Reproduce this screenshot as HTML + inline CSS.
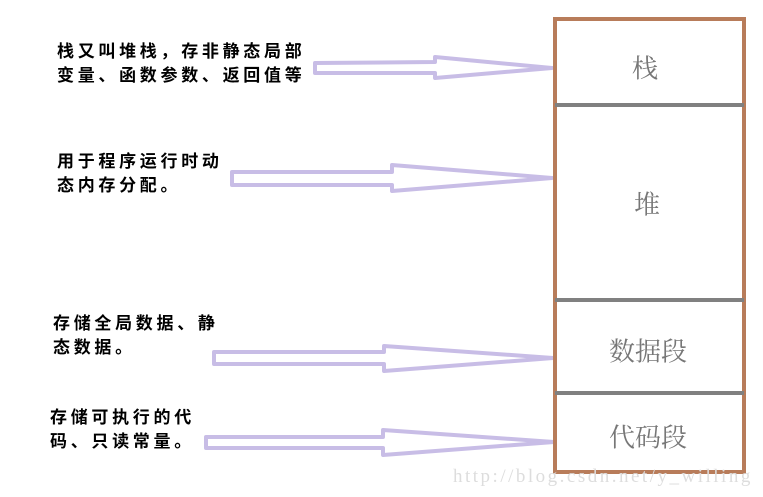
<!DOCTYPE html>
<html><head><meta charset="utf-8"><style>
body{margin:0;background:#fff;width:763px;height:497px;overflow:hidden;position:relative}
.t{position:absolute;font:bold 17px "Liberation Sans","Noto Sans CJK SC",sans-serif;color:#000;line-height:24px;letter-spacing:3.7px;white-space:nowrap}
.l{position:absolute;font:26px "Liberation Serif","Noto Serif CJK SC",serif;color:#777;transform:translate(-50%,-50%);white-space:nowrap}
</style></head><body>
<svg width="763" height="497" style="position:absolute;left:0;top:0">
<g fill="none" stroke="#c8bde6" stroke-width="4" stroke-linejoin="round">
<polygon points="315,63 435,62 435,57 552,68 435,78 435,73 315,73"/>
<polygon points="232,172 392,172 392,165 552,178 392,191 392,185 232,185"/>
<polygon points="214,352 384,352 384,346 553,358 384,371 384,364 214,364"/>
<polygon points="206,437 383,437 383,430 554,442 383,455 383,448 206,448"/>
</g>
<rect x="555" y="19" width="189" height="453" fill="none" stroke="#b87c5a" stroke-width="4"/>
<g stroke="#808080" stroke-width="4">
<line x1="555" y1="105" x2="744" y2="105"/>
<line x1="555" y1="300" x2="744" y2="300"/>
<line x1="555" y1="393" x2="744" y2="393"/>
</g>
</svg>
<div class="t" style="left:57px;top:40px">栈又叫堆栈，存非静态局部<br>变量、函数参数、返回值等</div>
<div class="t" style="left:57px;top:150px">用于程序运行时动<br>态内存分配。</div>
<div class="t" style="left:53px;top:312px">存储全局数据、静<br>态数据。</div>
<div class="t" style="left:50px;top:406px">存储可执行的代<br>码、只读常量。</div>
<div class="l" style="left:645px;top:67px">栈</div>
<div class="l" style="left:647px;top:203px">堆</div>
<div class="l" style="left:648px;top:350px">数据段</div>
<div class="l" style="left:648px;top:436px">代码段</div>
<div style="position:absolute;left:453px;top:466px;font:19px 'Liberation Serif',serif;color:#ddd;letter-spacing:2.5px">http://blog.csdn.net/y_willing</div>
</body></html>
